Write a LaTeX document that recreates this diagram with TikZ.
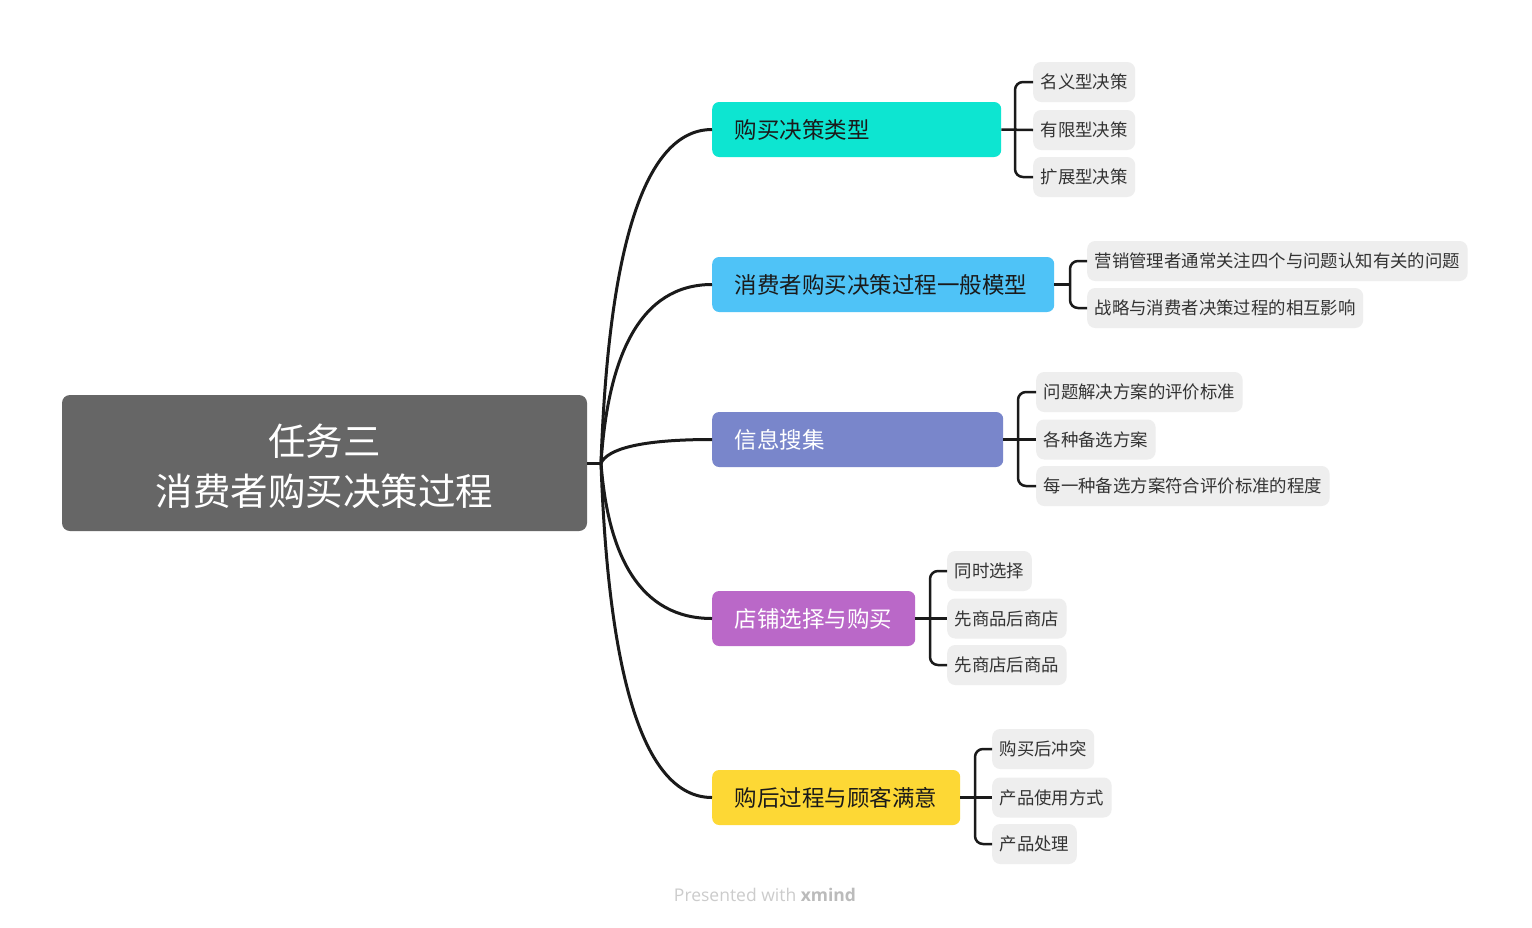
\documentclass[tikz,border=0pt]{standalone}
\usepackage{fontspec}
\setmainfont{Noto Sans CJK SC}
\newfontfamily\footfont{Open Sans}
\usetikzlibrary{calc}
\definecolor{ccenter}{HTML}{666666}
\definecolor{cteal}{HTML}{0DE5D1}
\definecolor{cblue}{HTML}{4FC3F7}
\definecolor{cindigo}{HTML}{7986CB}
\definecolor{cpurple}{HTML}{BA68C8}
\definecolor{cyellow}{HTML}{FDD835}
\definecolor{csub}{HTML}{EEEEEE}
\definecolor{cline}{HTML}{1A1A1A}
\definecolor{csubtext}{HTML}{333333}
\definecolor{cfoot}{HTML}{CCCCCC}
\definecolor{cfootb}{HTML}{BBBBBB}
\tikzset{
  centralbox/.style={fill=ccenter, rounded corners=8pt, minimum width=525pt, minimum height=136pt, inner sep=0pt},
  centraltext/.style={text=white, font=\fontsize{37.5}{50}\selectfont, align=center, inner sep=0pt},
  branchbox/.style={rounded corners=7pt, minimum height=55pt, anchor=west, inner xsep=22.5pt,
    inner ysep=0pt, font=\fontsize{22.5}{27}\selectfont, align=left},
  subbox/.style={fill=csub, rounded corners=8pt, minimum height=40pt, inner xsep=7.5pt, inner ysep=0pt,
    anchor=west, font=\fontsize{17.4}{21}\selectfont, text=csubtext},
  mainline/.style={draw=cline, line width=3pt},
  bracketline/.style={draw=cline, line width=2.5pt, rounded corners=8pt},
}
\begin{document}
\begin{tikzpicture}[x=1pt,y=-1pt]
\useasboundingbox (0,0) rectangle (1532,927);
\fill[white] (0,0) rectangle (1532,927);

% central
\node[centralbox] (c) at (324.5,463) {};
\node[centraltext] (ct) at (324.5,466) {任务三\\消费者购买决策过程};
\coordinate (J) at (601,463);

% branches
\node[branchbox, fill=cteal, text=cline, text width=244pt] (b1) at (712,129.5) {购买决策类型};
\node[branchbox, fill=cblue, text=cline, text width=297pt] (b2) at (712,284.5) {消费者购买决策过程一般模型};
\node[branchbox, fill=cindigo, text=white, text width=246pt] (b3) at (712,439.5) {信息搜集};
\node[branchbox, fill=cpurple, text=white, text width=158pt] (b4) at (712,618.5) {店铺选择与购买};
\node[branchbox, fill=cyellow, text=cline, text width=203pt] (b5) at (712,797.5) {购后过程与顾客满意};

% subtopics
\node[subbox] (s11) at (1033,82) {名义型决策};
\node[subbox] (s12) at (1033,130) {有限型决策};
\node[subbox] (s13) at (1033,177) {扩展型决策};

\node[subbox] (s21) at (1087,261) {营销管理者通常关注四个与问题认知有关的问题};
\node[subbox] (s22) at (1087,308) {战略与消费者决策过程的相互影响};

\node[subbox] (s31) at (1036,392) {问题解决方案的评价标准};
\node[subbox] (s32) at (1036,439.5) {各种备选方案};
\node[subbox] (s33) at (1036,486) {每一种备选方案符合评价标准的程度};

\node[subbox] (s41) at (947,571) {同时选择};
\node[subbox] (s42) at (947,618.5) {先商品后商店};
\node[subbox] (s43) at (947,665) {先商店后商品};

\node[subbox] (s51) at (992,749) {购买后冲突};
\node[subbox] (s52) at (992,797.5) {产品使用方式};
\node[subbox] (s53) at (992,844) {产品处理};

% main connectors
\draw[mainline] (c.east) -- (J);
\draw[mainline] (J) .. controls (608,263) and (640,129.5) .. (b1.west);
\draw[mainline] (J) .. controls (608,356) and (640,284.5) .. (b2.west);
\draw[mainline] (J) .. controls (608,449) and (640,439.5) .. (b3.west);
\draw[mainline] (J) .. controls (608,556) and (640,618.5) .. (b4.west);
\draw[mainline] (J) .. controls (608,664) and (640,797.5) .. (b5.west);

% brackets
\coordinate (k1) at (1015,129.5);
\coordinate (k2) at (1070,284.5);
\coordinate (k3) at (1018,439.5);
\coordinate (k4) at (930,618.5);
\coordinate (k5) at (975,797.5);

\draw[bracketline] (s11.west) -| (k1) |- (s13.west);
\draw[bracketline] (b1.east) -- (s12.west);

\draw[bracketline] (s21.west) -| (k2) |- (s22.west);
\draw[bracketline] (b2.east) -- (k2);

\draw[bracketline] (s31.west) -| (k3) |- (s33.west);
\draw[bracketline] (b3.east) -- (s32.west);

\draw[bracketline] (s41.west) -| (k4) |- (s43.west);
\draw[bracketline] (b4.east) -- (s42.west);

\draw[bracketline] (s51.west) -| (k5) |- (s53.west);
\draw[bracketline] (b5.east) -- (s52.west);

% footer
\node[font=\footfont\fontsize{17.5}{20}\selectfont, text=cfoot] (foot) at (765,895) {Presented with \textcolor{cfootb}{\bfseries xmind}};
\end{tikzpicture}
\end{document}
